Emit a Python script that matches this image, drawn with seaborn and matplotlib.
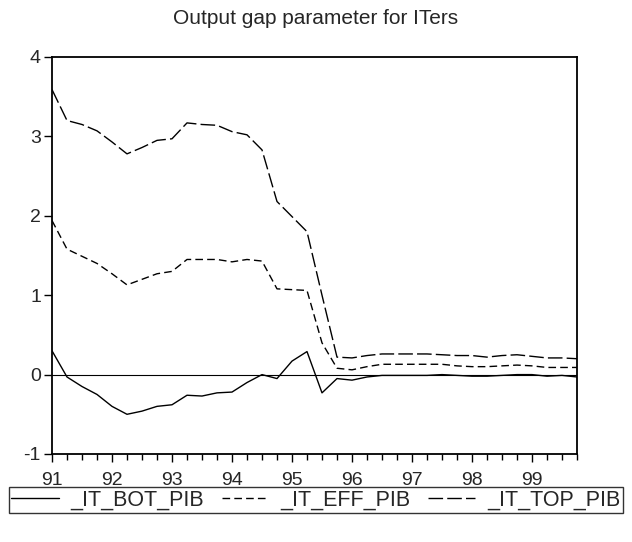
import numpy as np
import pandas as pd
import matplotlib.pyplot as plt
import seaborn as sns
from matplotlib.ticker import MultipleLocator

# Квартальні дані 1991Q1 - 1999Q4
quarters = pd.period_range("1991Q1", "1999Q4", freq="Q")

it_bot_pib = [
    0.30, -0.03, -0.15, -0.25,
    -0.40, -0.50, -0.46, -0.40,
    -0.38, -0.26, -0.27, -0.23,
    -0.22, -0.10, 0.00, -0.05,
    0.17, 0.29, -0.23, -0.05,
    -0.07, -0.03, -0.01, -0.01,
    -0.01, -0.01, 0.00, -0.01,
    -0.02, -0.02, -0.01, 0.00,
    0.00, -0.02, -0.01, -0.03,
]
it_eff_pib = [
    1.94, 1.58, 1.49, 1.40,
    1.27, 1.13, 1.20, 1.27,
    1.30, 1.45, 1.45, 1.45,
    1.42, 1.45, 1.43, 1.08,
    1.07, 1.06, 0.40, 0.08,
    0.06, 0.10, 0.13, 0.13,
    0.13, 0.13, 0.13, 0.11,
    0.10, 0.10, 0.11, 0.12,
    0.11, 0.09, 0.09, 0.09,
]
it_top_pib = [
    3.59, 3.20, 3.15, 3.07,
    2.93, 2.78, 2.86, 2.95,
    2.97, 3.17, 3.15, 3.14,
    3.06, 3.02, 2.83, 2.18,
    1.99, 1.80, 1.00, 0.22,
    0.21, 0.24, 0.26, 0.26,
    0.26, 0.26, 0.25, 0.24,
    0.24, 0.22, 0.24, 0.25,
    0.23, 0.21, 0.21, 0.20,
]
series_names = ["_IT_BOT_PIB", "_IT_EFF_PIB", "_IT_TOP_PIB"]
year_labels = ["91", "92", "93", "94", "95", "96", "97", "98", "99"]

t = (quarters.year - 1900) + (quarters.quarter - 1) / 4
df = pd.DataFrame({
    "t": np.tile(t, 3),
    "value": it_bot_pib + it_eff_pib + it_top_pib,
    "series": np.repeat(series_names, len(t)),
})

sns.set_style("ticks")
plt.rcParams["font.family"] = ["Liberation Sans", "DejaVu Sans"]
plt.rcParams["axes.unicode_minus"] = False

fig = plt.figure(figsize=(6.32, 5.42), dpi=100)
ax = fig.add_axes([52 / 632, 1 - 454 / 542, 525 / 632, 397 / 542])

ax.axhline(0, color="black", lw=0.8, zorder=1)
sns.lineplot(
    data=df, x="t", y="value", style="series", style_order=series_names,
    dashes={"_IT_BOT_PIB": "", "_IT_EFF_PIB": (5.5, 3), "_IT_TOP_PIB": (10.5, 3)},
    color="black", linewidth=1.0, legend=False, ax=ax,
)

ax.set_xlim(91, 99.75)
ax.set_ylim(-1, 4)
ax.set_xticks(range(91, 100))
ax.set_xticklabels(year_labels)
ax.xaxis.set_minor_locator(MultipleLocator(0.25))
ax.set_yticks(range(-1, 5))
ax.tick_params(axis="both", which="major", length=6, width=1, labelsize=14,
               color="black")
ax.tick_params(axis="x", which="major", pad=7)
ax.tick_params(axis="y", which="major", pad=2)
ax.tick_params(axis="x", which="minor", length=4.5, width=1, color="black")
ax.set_xlabel("")
ax.set_ylabel("")
for sp in ax.spines.values():
    sp.set_visible(True)
    sp.set_linewidth(1.3)
    sp.set_color("black")

fig.text(316 / 632, 1 - 18 / 542, "Output gap parameter for ITers",
         ha="center", va="center", fontsize=15)

handles = ax.get_lines()[1:4]
fig.legend(
    handles, series_names, loc="center", ncol=3,
    bbox_to_anchor=(316 / 632, 1 - 500 / 542),
    frameon=True, fancybox=False, edgecolor="black", fontsize=15.5,
    handlelength=2.2, handletextpad=0.55, columnspacing=0.8,
    borderpad=0.1, borderaxespad=0,
)
fig.legends[0].get_frame().set_linewidth(1.0)

plt.savefig("out.png", dpi=100)
